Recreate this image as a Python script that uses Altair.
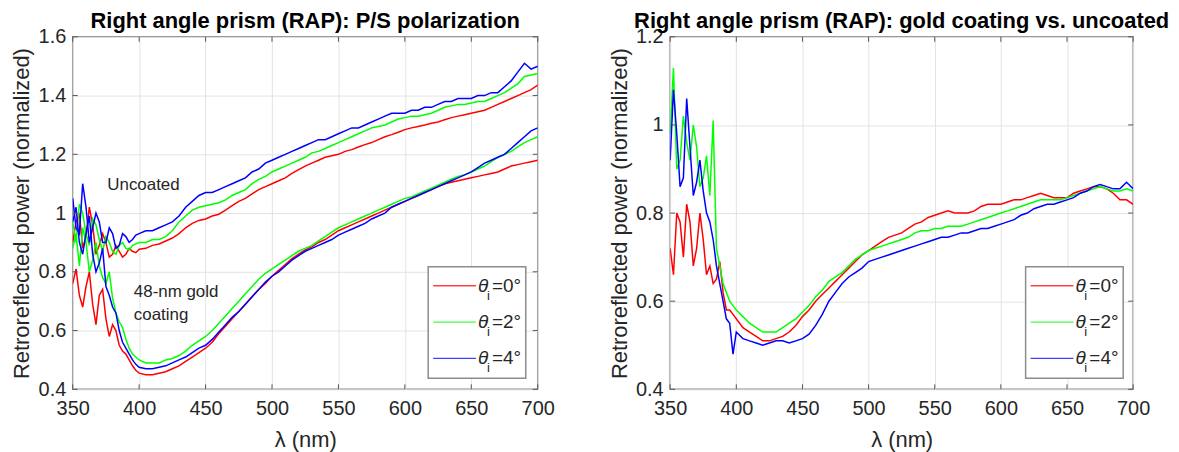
import altair as alt
import pandas as pd

# ---------------- data ----------------
WL = list(range(350, 705, 5))              # main samples, nm
WL_HALF = [352.5 + 5 * k for k in range(10)]  # extra samples in the noisy UV region
ANGLES = ["0", "2", "4"]
COLORS = ["#ff0000", "#00ff00", "#0000ff"]

# Left panel: uncoated prism
L_UNC_0 = [0.90, 1.00, 0.92, 0.96, 0.89, 0.90, 0.86, 0.87, 0.86, 0.87,
           0.877, 0.88, 0.89, 0.895, 0.905, 0.915, 0.93, 0.95, 0.965, 0.975,
           0.98, 0.99, 0.996, 1.01, 1.025, 1.04, 1.05, 1.065, 1.08, 1.09,
           1.10, 1.11, 1.12, 1.135, 1.148, 1.16, 1.17, 1.18, 1.19, 1.195,
           1.20, 1.21, 1.216, 1.225, 1.233, 1.24, 1.25, 1.26, 1.267, 1.275,
           1.284, 1.29, 1.295, 1.30, 1.306, 1.31, 1.318, 1.325, 1.33, 1.335,
           1.34, 1.345, 1.35, 1.36, 1.37, 1.38, 1.39, 1.40, 1.41, 1.42,
           1.436]
L_UNC_0_H = [0.97, 0.88, 1.02, 0.86, 0.93, 0.85, 0.89, 0.85, 0.88, 0.865]
L_UNC_2 = [0.97, 1.03, 0.93, 0.98, 0.91, 0.92, 0.87, 0.89, 0.88, 0.89,
           0.90, 0.90, 0.91, 0.91, 0.92, 0.94, 0.97, 0.99, 1.01, 1.02,
           1.025, 1.03, 1.035, 1.045, 1.06, 1.07, 1.08, 1.10, 1.115, 1.125,
           1.14, 1.15, 1.16, 1.17, 1.18, 1.19, 1.205, 1.21, 1.22, 1.23,
           1.24, 1.25, 1.26, 1.27, 1.28, 1.29, 1.295, 1.30, 1.31, 1.32,
           1.325, 1.33, 1.33, 1.335, 1.34, 1.35, 1.36, 1.365, 1.37, 1.37,
           1.375, 1.38, 1.38, 1.39, 1.40, 1.41, 1.425, 1.44, 1.465, 1.47,
           1.475]
L_UNC_2_H = [0.90, 1.00, 0.89, 0.96, 0.87, 0.90, 0.86, 0.90, 0.875, 0.895]
L_UNC_4 = [1.05, 0.93, 1.02, 0.95, 0.97, 0.90, 0.93, 0.89, 0.92, 0.91,
           0.93, 0.94, 0.94, 0.95, 0.96, 0.97, 0.99, 1.02, 1.04, 1.06,
           1.07, 1.07, 1.08, 1.09, 1.10, 1.11, 1.12, 1.14, 1.15, 1.17,
           1.18, 1.19, 1.20, 1.21, 1.22, 1.23, 1.24, 1.25, 1.25, 1.26,
           1.27, 1.28, 1.29, 1.29, 1.30, 1.31, 1.32, 1.33, 1.34, 1.34,
           1.34, 1.35, 1.35, 1.36, 1.36, 1.37, 1.38, 1.38, 1.39, 1.39,
           1.39, 1.40, 1.40, 1.41, 1.41, 1.43, 1.45, 1.48, 1.51, 1.49,
           1.50]
L_UNC_4_H = [0.95, 1.10, 0.90, 1.00, 0.90, 0.95, 0.88, 0.93, 0.90, 0.925]
# Left panel: 48-nm gold coating
L_GOLD_0 = [0.76, 0.72, 0.75, 0.69, 0.72, 0.64, 0.62, 0.55, 0.52, 0.48,
            0.455, 0.45, 0.45, 0.455, 0.46, 0.47, 0.48, 0.495, 0.51, 0.525,
            0.54, 0.56, 0.59, 0.615, 0.64, 0.665, 0.69, 0.715, 0.74, 0.76,
            0.785, 0.805, 0.825, 0.845, 0.86, 0.875, 0.885, 0.90, 0.91, 0.925,
            0.94, 0.95, 0.96, 0.97, 0.98, 0.99, 1.00, 1.01, 1.02, 1.03,
            1.04, 1.05, 1.06, 1.07, 1.08, 1.09, 1.10, 1.105, 1.11, 1.115,
            1.12, 1.125, 1.13, 1.135, 1.14, 1.15, 1.16, 1.165, 1.17, 1.175,
            1.18]
L_GOLD_0_H = [0.81, 0.68, 0.80, 0.62, 0.74, 0.58, 0.60, 0.53, 0.50, 0.465]
L_GOLD_2 = [0.88, 0.82, 0.90, 0.84, 0.82, 0.76, 0.71, 0.63, 0.57, 0.52,
            0.50, 0.49, 0.49, 0.49, 0.50, 0.505, 0.515, 0.53, 0.55, 0.565,
            0.58, 0.60, 0.625, 0.65, 0.675, 0.70, 0.725, 0.75, 0.775, 0.795,
            0.81, 0.825, 0.84, 0.855, 0.87, 0.88, 0.89, 0.905, 0.92, 0.935,
            0.95, 0.96, 0.97, 0.98, 0.99, 1.00, 1.01, 1.02, 1.03, 1.04,
            1.05, 1.055, 1.065, 1.075, 1.085, 1.095, 1.105, 1.115, 1.125, 1.13,
            1.14, 1.15, 1.16, 1.175, 1.19, 1.20, 1.21, 1.225, 1.24, 1.25,
            1.26]
L_GOLD_2_H = [0.93, 0.95, 0.80, 0.90, 0.78, 0.80, 0.66, 0.61, 0.54, 0.51]
L_GOLD_4 = [0.97, 0.90, 0.93, 0.86, 0.83, 0.75, 0.68, 0.60, 0.54, 0.50,
            0.475, 0.47, 0.47, 0.475, 0.48, 0.49, 0.50, 0.51, 0.525, 0.54,
            0.55, 0.57, 0.595, 0.62, 0.645, 0.665, 0.69, 0.715, 0.74, 0.765,
            0.785, 0.80, 0.82, 0.84, 0.855, 0.87, 0.88, 0.89, 0.90, 0.91,
            0.925, 0.935, 0.945, 0.955, 0.965, 0.98, 0.99, 1.00, 1.02, 1.03,
            1.04, 1.05, 1.06, 1.07, 1.08, 1.09, 1.10, 1.11, 1.12, 1.13,
            1.14, 1.155, 1.17, 1.18, 1.19, 1.20, 1.22, 1.24, 1.26, 1.28,
            1.29]
L_GOLD_4_H = [1.02, 0.86, 0.99, 0.80, 0.88, 0.72, 0.66, 0.56, 0.52, 0.485]
# Right panel: gold coating vs. uncoated
R_0 = [0.72, 0.80, 0.70, 0.78, 0.72, 0.74, 0.68, 0.65, 0.62, 0.58,
       0.56, 0.54, 0.53, 0.52, 0.51, 0.51, 0.515, 0.52, 0.53, 0.545,
       0.565, 0.58, 0.60, 0.615, 0.63, 0.645, 0.66, 0.675, 0.69, 0.705,
       0.715, 0.725, 0.735, 0.745, 0.75, 0.755, 0.765, 0.775, 0.78, 0.79,
       0.795, 0.80, 0.805, 0.80, 0.80, 0.80, 0.805, 0.815, 0.82, 0.82,
       0.82, 0.825, 0.83, 0.83, 0.835, 0.84, 0.845, 0.84, 0.835, 0.835,
       0.835, 0.845, 0.85, 0.855, 0.86, 0.86, 0.855, 0.845, 0.83, 0.83,
       0.82]
R_0_H = [0.66, 0.78, 0.82, 0.68, 0.80, 0.66, 0.64, 0.69, 0.58, 0.57]
R_2 = [0.98, 0.90, 1.02, 0.92, 0.95, 0.88, 0.84, 0.72, 0.64, 0.60,
       0.58, 0.565, 0.55, 0.54, 0.53, 0.53, 0.53, 0.54, 0.55, 0.56,
       0.575, 0.59, 0.61, 0.625, 0.645, 0.655, 0.665, 0.68, 0.695, 0.705,
       0.715, 0.72, 0.725, 0.73, 0.735, 0.74, 0.745, 0.755, 0.76, 0.76,
       0.765, 0.765, 0.77, 0.77, 0.77, 0.775, 0.78, 0.785, 0.79, 0.795,
       0.80, 0.805, 0.81, 0.815, 0.82, 0.825, 0.83, 0.83, 0.83, 0.83,
       0.835, 0.84, 0.845, 0.85, 0.855, 0.86, 0.855, 0.85, 0.85, 0.855,
       0.85]
R_2_H = [1.13, 0.92, 0.96, 1.00, 0.86, 0.93, 1.01, 0.68, 0.62, 0.59]
R_4 = [0.92, 0.98, 0.88, 0.95, 0.87, 0.85, 0.78, 0.68, 0.60, 0.55,
       0.53, 0.515, 0.51, 0.505, 0.50, 0.505, 0.51, 0.51, 0.505, 0.51,
       0.515, 0.525, 0.545, 0.57, 0.60, 0.62, 0.64, 0.655, 0.665, 0.675,
       0.69, 0.695, 0.70, 0.705, 0.71, 0.715, 0.72, 0.725, 0.73, 0.735,
       0.74, 0.745, 0.745, 0.75, 0.755, 0.755, 0.76, 0.765, 0.765, 0.77,
       0.775, 0.78, 0.785, 0.795, 0.80, 0.81, 0.815, 0.82, 0.82, 0.825,
       0.83, 0.835, 0.845, 0.85, 0.86, 0.865, 0.86, 0.855, 0.855, 0.87,
       0.855]
R_4_H = [1.08, 0.86, 1.06, 0.84, 0.92, 0.80, 0.74, 0.64, 0.56, 0.48]

XTICKS = [350, 400, 450, 500, 550, 600, 650, 700]
YTICKS_L = [0.4, 0.6, 0.8, 1.0, 1.2, 1.4, 1.6]
YTICKS_R = [0.4, 0.6, 0.8, 1.0, 1.2]

ANNOT_TEXT = ["Uncoated", "48-nm gold", "coating"]
ANNOT_WL = [376.0, 396.0, 396.0]
ANNOT_VAL = [1.095, 0.731, 0.652]

TITLE_L = "Right angle prism (RAP): P/S polarization"
TITLE_R = "Right angle prism (RAP): gold coating vs. uncoated"
YTITLE = "Retroreflected power (normalized)"
XTITLE = "λ (nm)"


def long_df(series):
    rows = []
    for grp, ang, vals, half in series:
        pts = list(zip(WL, vals)) + list(zip(WL_HALF, half))
        for w, v in sorted(pts):
            rows.append({"wl": w, "val": v, "angle": ang, "grp": grp})
    return pd.DataFrame(rows)


df_left = long_df([
    ("unc", "0", L_UNC_0, L_UNC_0_H), ("unc", "2", L_UNC_2, L_UNC_2_H),
    ("unc", "4", L_UNC_4, L_UNC_4_H),
    ("gold", "0", L_GOLD_0, L_GOLD_0_H), ("gold", "2", L_GOLD_2, L_GOLD_2_H),
    ("gold", "4", L_GOLD_4, L_GOLD_4_H),
])
df_right = long_df([("gold", "0", R_0, R_0_H), ("gold", "2", R_2, R_2_H),
                    ("gold", "4", R_4, R_4_H)])
df_annot = pd.DataFrame({"wl": ANNOT_WL, "val": ANNOT_VAL, "txt": ANNOT_TEXT})

# ---------------- style ----------------
FONT = "Liberation Sans"
BOX = "#8c8c8c"
TXT = "#262626"
H = 354


def panel(df, title, ydom, yticks, width, annot=None):
    xs = alt.Scale(domain=[350, 700], nice=False, zero=False)
    ys = alt.Scale(domain=ydom, nice=False, zero=False)
    xax = alt.Axis(values=XTICKS, title=XTITLE, grid=True, gridColor="#e3e3e3",
                   domain=False, ticks=False, labelFont=FONT, labelFontSize=20,
                   labelColor=TXT, labelPadding=9, labelFlush=False,
                   titleFont=FONT, titleFontSize=22,
                   titleFontWeight="normal", titleColor=TXT, titleY=50,
                   titleBaseline="middle")
    yax = alt.Axis(values=yticks, format="~g", title=YTITLE, grid=True,
                   gridColor="#e3e3e3", domain=False, ticks=False, labelFont=FONT,
                   labelFontSize=20, labelColor=TXT, labelPadding=7,
                   titleFont=FONT, titleFontSize=22, titleFontWeight="normal",
                   titleColor=TXT, titleX=-51, titleY=H / 2, titleAngle=270,
                   titleBaseline="middle", titleAlign="center")
    X = lambda f: alt.X(f, scale=xs, axis=xax)
    Y = lambda f: alt.Y(f, scale=ys, axis=yax)
    layers = []
    for ang, col in zip(ANGLES, COLORS):
        layers.append(
            alt.Chart(df).transform_filter(alt.datum.angle == ang)
            .mark_line(color=col, strokeWidth=1.5, clip=True)
            .encode(x=X("wl:Q"), y=Y("val:Q"), detail="grp:N")
        )
    # inner ticks (MATLAB box style)
    tx = pd.DataFrame({"wl": XTICKS})
    ty = pd.DataFrame({"val": yticks})
    for y0, y1 in [(H, H - 5), (0, 5)]:
        layers.append(alt.Chart(tx).mark_rule(color="#555555", strokeWidth=1)
                      .encode(x=X("wl:Q"), y=alt.value(y0), y2=alt.value(y1)))
    for x0, x1 in [(0, 5), (width, width - 5)]:
        layers.append(alt.Chart(ty).mark_rule(color="#555555", strokeWidth=1)
                      .encode(y=Y("val:Q"), x=alt.value(x0), x2=alt.value(x1)))
    if annot is not None:
        layers.append(alt.Chart(annot).mark_text(font=FONT, fontSize=17, color=TXT,
                                                 align="left", baseline="middle")
                      .encode(x=X("wl:Q"), y=Y("val:Q"), text="txt:N"))
    one = pd.DataFrame({"k": [0]})
    # panel title
    layers.append(alt.Chart(one).mark_text(text=title, font=FONT, fontSize=22,
                                           fontWeight="bold", color="#000000",
                                           align="center", baseline="alphabetic")
                  .encode(x=alt.value(width / 2), y=alt.value(-9)))
    # legend box
    layers.append(alt.Chart(one).mark_rect(fill="white", stroke=BOX, strokeWidth=1.5)
                  .encode(x=alt.value(357), x2=alt.value(455),
                          y=alt.value(231), y2=alt.value(343)))
    for i, (ang, col) in enumerate(zip(ANGLES, COLORS)):
        yr = 250 + 36.5 * i
        layers.append(alt.Chart(one).mark_rule(color=col, strokeWidth=1.3, opacity=0.75)
                      .encode(x=alt.value(362), x2=alt.value(405), y=alt.value(yr)))
        layers.append(alt.Chart(one).mark_text(text="θ", font=FONT, fontStyle="italic",
                                               fontSize=19, color=TXT, align="left",
                                               baseline="middle")
                      .encode(x=alt.value(407), y=alt.value(yr)))
        layers.append(alt.Chart(one).mark_text(text="i", font=FONT, fontSize=13,
                                               color=TXT, align="left", baseline="middle")
                      .encode(x=alt.value(416), y=alt.value(yr + 10)))
        layers.append(alt.Chart(one).mark_text(text="=" + ang + "°", font=FONT,
                                               fontSize=19, color=TXT, align="left",
                                               baseline="middle")
                      .encode(x=alt.value(421), y=alt.value(yr)))
    return alt.layer(*layers).properties(width=width, height=H)


left = panel(df_left, TITLE_L, [0.4, 1.6], YTICKS_L, 467, df_annot)
right = panel(df_right, TITLE_R, [0.4, 1.2], YTICKS_R, 465)

chart = alt.hconcat(left, right, spacing=133, bounds="flush").properties(
    padding={"left": 2, "top": 0, "right": 0, "bottom": 0}
).configure_view(stroke=BOX, strokeWidth=1.5)

chart.save("out.html", embed_options={"renderer": "svg", "actions": False})
